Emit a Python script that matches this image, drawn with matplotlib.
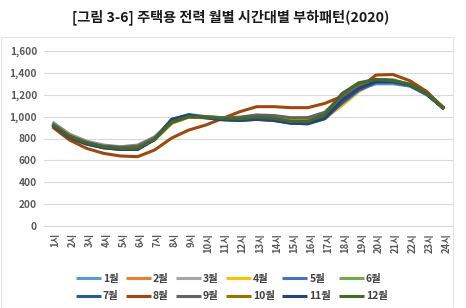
import matplotlib.pyplot as plt
from matplotlib.patches import Rectangle
from matplotlib.transforms import ScaledTranslation

plt.rcParams['font.family'] = ['Noto Sans CJK KR', 'DejaVu Sans']

hours = [f'{h}시' for h in range(1, 25)]
months = [f'{m}월' for m in range(1, 13)]

m01 = [950, 840, 775, 740, 725, 740, 815, 960, 1020, 1000, 985, 990, 1005, 995, 975, 980, 1030, 1160, 1250, 1300, 1300, 1280, 1200, 1075]
m02 = [940, 835, 770, 735, 720, 735, 810, 950, 1010, 1000, 985, 985, 1000, 990, 970, 975, 1020, 1170, 1270, 1315, 1310, 1285, 1205, 1080]
m03 = [935, 825, 765, 730, 715, 725, 800, 945, 1005, 1000, 990, 990, 1010, 1005, 985, 990, 1030, 1140, 1260, 1320, 1315, 1285, 1205, 1080]
m04 = [925, 815, 760, 725, 710, 715, 790, 940, 1000, 995, 985, 980, 995, 990, 965, 965, 985, 1100, 1230, 1320, 1320, 1290, 1210, 1085]
m05 = [920, 810, 755, 720, 705, 710, 790, 945, 1000, 990, 975, 970, 985, 975, 950, 945, 990, 1120, 1240, 1310, 1310, 1280, 1200, 1075]
m06 = [930, 820, 760, 725, 710, 715, 795, 945, 1000, 995, 985, 980, 995, 985, 960, 960, 1010, 1200, 1300, 1340, 1330, 1295, 1210, 1075]
m07 = [915, 805, 750, 715, 700, 700, 795, 975, 1015, 995, 975, 965, 975, 965, 940, 935, 980, 1130, 1250, 1320, 1320, 1290, 1205, 1070]
m08 = [905, 786, 710, 664, 640, 634, 695, 804, 877, 923, 984, 1045, 1091, 1091, 1082, 1082, 1121, 1185, 1258, 1380, 1385, 1328, 1228, 1075]
m09 = [935, 825, 765, 730, 720, 730, 805, 950, 1005, 1000, 990, 995, 1015, 1010, 990, 990, 1040, 1190, 1290, 1340, 1335, 1295, 1210, 1080]
m10 = [925, 815, 755, 720, 705, 710, 790, 940, 995, 990, 980, 975, 990, 985, 960, 960, 1000, 1150, 1270, 1330, 1325, 1290, 1205, 1075]
m11 = [920, 810, 750, 715, 700, 700, 790, 975, 1015, 990, 970, 965, 975, 965, 940, 935, 985, 1150, 1260, 1320, 1320, 1290, 1205, 1070]
m12 = [930, 820, 760, 725, 710, 710, 795, 950, 1000, 995, 985, 980, 995, 985, 955, 955, 1020, 1210, 1310, 1340, 1330, 1295, 1210, 1070]
series = [m01, m02, m03, m04, m05, m06, m07, m08, m09, m10, m11, m12]

colors = ['#5B9BD5', '#ED7D31', '#A5A5A5', '#FFC000', '#4472C4', '#70AD47',
          '#255E91', '#9E480E', '#636363', '#997300', '#264478', '#43682B']

fig = plt.figure(figsize=(4.66, 3.08), dpi=100)
ax = fig.add_axes([44 / 466, 1 - 226 / 308, 408.5 / 466, 175 / 308])

x = list(range(1, 25))
lines = []
for vals, c, lab in zip(series, colors, months):
    ln, = ax.plot(x, vals, color=c, lw=2.2, label=lab, solid_capstyle='butt')
    lines.append(ln)

ax.set_xlim(0.5, 24.5)
ax.set_ylim(0, 1600)
ax.set_yticks(range(0, 1601, 200))
ax.set_yticklabels([f'{v:,}' for v in range(0, 1601, 200)],
                   fontsize=7.3, color='#595959', fontweight='bold')
ax.set_xticks(x)
ax.set_xticklabels(hours, rotation=90, fontsize=6.8, color='#595959', fontweight='bold')
ax.tick_params(length=0, pad=5)
shift = ScaledTranslation(3 / 100, 0, fig.dpi_scale_trans)
for t in ax.get_xticklabels():
    t.set_transform(t.get_transform() + shift)
ax.grid(axis='y', color='#d9d9d9', lw=0.8)
ax.set_axisbelow(True)
for s in ['top', 'right', 'left']:
    ax.spines[s].set_visible(False)
ax.spines['bottom'].set_color('#d9d9d9')
ax.spines['bottom'].set_linewidth(0.8)

fig.text(0.496, 1 - 17 / 308, '[그림 3-6] 주택용 전력 월별 시간대별 부하패턴(2020)',
         ha='center', va='center', fontsize=10.2, color='#1a1a1a', fontweight='semibold')

# legend filled column-first, so interleave to get rows 1-6 / 7-12
order = [i + 6 * r for i in range(6) for r in range(2)]
fig.legend([lines[i] for i in order], [months[i] for i in order],
           loc='center', bbox_to_anchor=(0.497, 1 - 287.5 / 308), ncol=6, frameon=False,
           handlelength=2.4, handletextpad=0.2, columnspacing=0.7,
           labelspacing=0.75, labelcolor='#404040', prop={'weight': 'bold', 'size': 7.5})

fig.patches.append(Rectangle((0.002, 0.0), 452 / 466, 1 - 37 / 308, transform=fig.transFigure,
                             fill=False, edgecolor='#e3e3e3', lw=0.8))

fig.savefig('out.png', dpi=100)
